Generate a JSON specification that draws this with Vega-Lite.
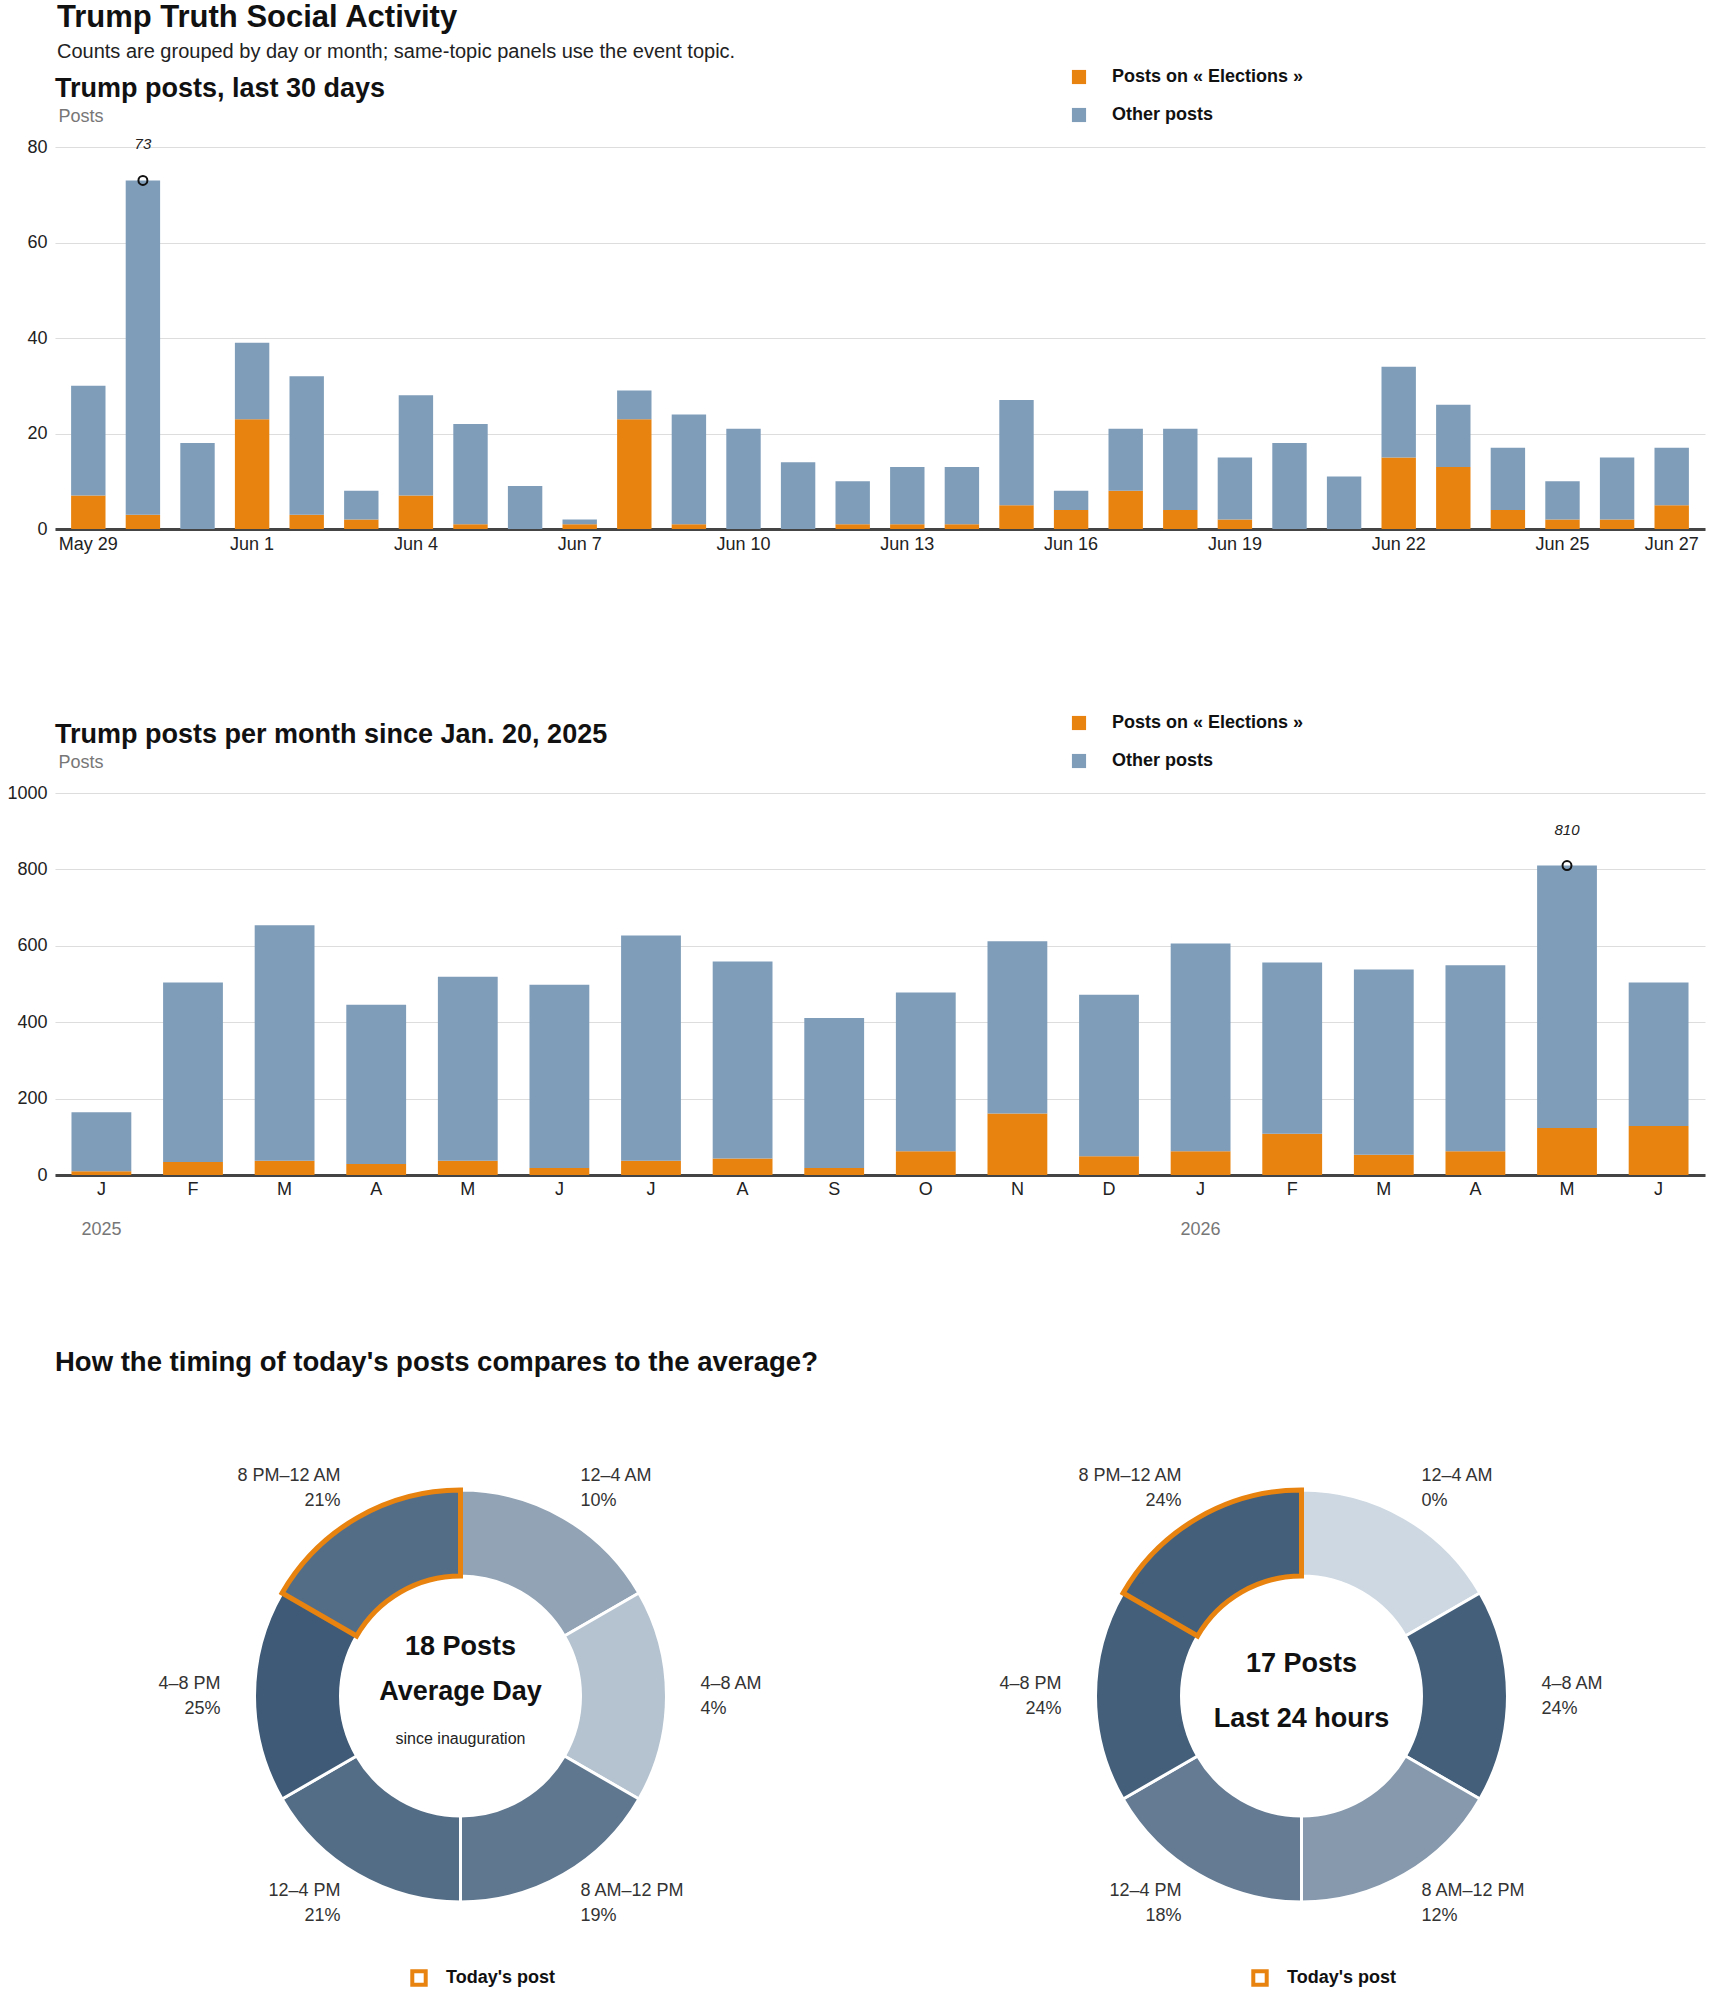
{
  "$schema": "https://vega.github.io/schema/vega-lite/v6.json",
  "background": "white",
  "padding": {"left": 6, "top": 2, "right": 2, "bottom": 2},
  "config": {
    "font": "Liberation Sans",
    "view": {"stroke": null},
    "axis": {"labelFont": "Liberation Sans", "labelFontSize": 18, "labelColor": "#222222", "titleFont": "Liberation Sans"},
    "legend": {"labelFont": "Liberation Sans", "labelLimit": 400},
    "title": {"font": "Liberation Sans"},
    "text": {"font": "Liberation Sans"}
  },
  "title": {
    "text": "Trump Truth Social Activity",
    "subtitle": "Counts are grouped by day or month; same-topic panels use the event topic.",
    "anchor": "start", "dx": 50, "fontSize": 31, "fontWeight": "bold", "color": "#111111",
    "subtitleFontSize": 20, "subtitleColor": "#222222", "subtitlePadding": 8, "offset": 5
  },
  "datasets": {
    "daily": [
      {"day": "May 29", "elections": 7, "other": 23},
      {"day": "May 30", "elections": 3, "other": 70},
      {"day": "May 31", "elections": 0, "other": 18},
      {"day": "Jun 1", "elections": 23, "other": 16},
      {"day": "Jun 2", "elections": 3, "other": 29},
      {"day": "Jun 3", "elections": 2, "other": 6},
      {"day": "Jun 4", "elections": 7, "other": 21},
      {"day": "Jun 5", "elections": 1, "other": 21},
      {"day": "Jun 6", "elections": 0, "other": 9},
      {"day": "Jun 7", "elections": 1, "other": 1},
      {"day": "Jun 8", "elections": 23, "other": 6},
      {"day": "Jun 9", "elections": 1, "other": 23},
      {"day": "Jun 10", "elections": 0, "other": 21},
      {"day": "Jun 11", "elections": 0, "other": 14},
      {"day": "Jun 12", "elections": 1, "other": 9},
      {"day": "Jun 13", "elections": 1, "other": 12},
      {"day": "Jun 14", "elections": 1, "other": 12},
      {"day": "Jun 15", "elections": 5, "other": 22},
      {"day": "Jun 16", "elections": 4, "other": 4},
      {"day": "Jun 17", "elections": 8, "other": 13},
      {"day": "Jun 18", "elections": 4, "other": 17},
      {"day": "Jun 19", "elections": 2, "other": 13},
      {"day": "Jun 20", "elections": 0, "other": 18},
      {"day": "Jun 21", "elections": 0, "other": 11},
      {"day": "Jun 22", "elections": 15, "other": 19},
      {"day": "Jun 23", "elections": 13, "other": 13},
      {"day": "Jun 24", "elections": 4, "other": 13},
      {"day": "Jun 25", "elections": 2, "other": 8},
      {"day": "Jun 26", "elections": 2, "other": 13},
      {"day": "Jun 27", "elections": 5, "other": 12}
    ],
    "monthly": [
      {"month": "Jan 2025", "elections": 10, "other": 154},
      {"month": "Feb 2025", "elections": 34, "other": 470},
      {"month": "Mar 2025", "elections": 37, "other": 617},
      {"month": "Apr 2025", "elections": 29, "other": 417},
      {"month": "May 2025", "elections": 37, "other": 482},
      {"month": "Jun 2025", "elections": 18, "other": 480},
      {"month": "Jul 2025", "elections": 37, "other": 590},
      {"month": "Aug 2025", "elections": 43, "other": 516},
      {"month": "Sep 2025", "elections": 18, "other": 393},
      {"month": "Oct 2025", "elections": 62, "other": 416},
      {"month": "Nov 2025", "elections": 161, "other": 451},
      {"month": "Dec 2025", "elections": 49, "other": 423},
      {"month": "Jan 2026", "elections": 62, "other": 544},
      {"month": "Feb 2026", "elections": 108, "other": 448},
      {"month": "Mar 2026", "elections": 53, "other": 485},
      {"month": "Apr 2026", "elections": 62, "other": 487},
      {"month": "May 2026", "elections": 123, "other": 687},
      {"month": "Jun 2026", "elections": 128, "other": 376}
    ],
    "avgday": [
      {"slot": "12–4 AM", "idx": 0, "hours": 4, "share": 0.10, "today": false},
      {"slot": "4–8 AM", "idx": 1, "hours": 4, "share": 0.04, "today": false},
      {"slot": "8 AM–12 PM", "idx": 2, "hours": 4, "share": 0.19, "today": false},
      {"slot": "12–4 PM", "idx": 3, "hours": 4, "share": 0.21, "today": false},
      {"slot": "4–8 PM", "idx": 4, "hours": 4, "share": 0.25, "today": false},
      {"slot": "8 PM–12 AM", "idx": 5, "hours": 4, "share": 0.21, "today": true}
    ],
    "last24": [
      {"slot": "12–4 AM", "idx": 0, "hours": 4, "share": 0.00, "today": false},
      {"slot": "4–8 AM", "idx": 1, "hours": 4, "share": 0.24, "today": false},
      {"slot": "8 AM–12 PM", "idx": 2, "hours": 4, "share": 0.12, "today": false},
      {"slot": "12–4 PM", "idx": 3, "hours": 4, "share": 0.18, "today": false},
      {"slot": "4–8 PM", "idx": 4, "hours": 4, "share": 0.24, "today": false},
      {"slot": "8 PM–12 AM", "idx": 5, "hours": 4, "share": 0.24, "today": true}
    ]
  },
  "vconcat": [
    {
      "spacing": 161,
      "resolve": {"scale": {"color": "independent"}, "legend": {"color": "independent"}},
      "vconcat": [
        {
          "title": {"text": "Trump posts, last 30 days", "anchor": "start", "frame": "group", "fontSize": 27, "fontWeight": "bold", "color": "#111111", "offset": -35},
          "width": 1650, "height": 382,
          "data": {"name": "daily"},
          "transform": [{"fold": ["elections", "other"], "as": ["series", "posts"]}],
          "layer": [
            {
              "mark": {"type": "bar"},
              "encoding": {
                "x": {"field": "day", "type": "ordinal", "sort": null, "title": null,
                  "scale": {"paddingInner": 0.37, "paddingOuter": 0.295},
                  "axis": {"values": ["May 29", "Jun 1", "Jun 4", "Jun 7", "Jun 10", "Jun 13", "Jun 16", "Jun 19", "Jun 22", "Jun 25", "Jun 27"],
                    "labelAngle": 0, "ticks": false, "domainColor": "#444444", "domainWidth": 3, "labelPadding": 6, "labelFontSize": 18}},
                "y": {"field": "posts", "type": "quantitative", "stack": "zero", "title": "Posts",
                  "scale": {"domain": [0, 80]},
                  "axis": {"values": [0, 20, 40, 60, 80], "format": "d", "grid": true, "gridColor": "#dddddd", "domain": false, "ticks": false, "labelPadding": 8,
                    "titleAngle": 0, "titleAlign": "left", "titleBaseline": "middle", "titleX": 3, "titleY": -31, "titleColor": "#777777", "titleFontWeight": "normal", "titleFontSize": 18}},
                "color": {"field": "series", "type": "nominal",
                  "scale": {"domain": ["elections", "other"], "range": ["#e8830f", "#7f9db9"]},
                  "legend": {"orient": "none", "legendX": 1015, "legendY": -79, "title": null, "symbolType": "square", "symbolSize": 200,
                    "labelFontSize": 18, "labelFontWeight": "bold", "labelColor": "#111111", "labelOffset": 24, "rowPadding": 20, "labelLimit": 400,
                    "labelExpr": "datum.label == 'elections' ? 'Posts on « Elections »' : 'Other posts'"}},
                "order": {"field": "series", "sort": "ascending"}
              }
            },
            {
              "transform": [{"filter": "datum.day == 'May 30'"}],
              "mark": {"type": "point", "shape": "circle", "filled": false, "stroke": "#111111", "strokeWidth": 2, "size": 80, "opacity": 1},
              "encoding": {
                "x": {"field": "day", "type": "ordinal", "sort": null, "title": null},
                "y": {"aggregate": "sum", "field": "posts", "type": "quantitative", "title": "Posts"}
              }
            },
            {
              "transform": [{"filter": "datum.day == 'May 30'"}],
              "mark": {"type": "text", "dy": -36, "fontSize": 15, "fontStyle": "italic", "color": "#222222"},
              "encoding": {
                "x": {"field": "day", "type": "ordinal", "sort": null, "title": null},
                "y": {"aggregate": "sum", "field": "posts", "type": "quantitative", "title": "Posts"},
                "text": {"aggregate": "sum", "field": "posts", "type": "quantitative"}
              }
            }
          ]
        },
        {
          "title": {"text": "Trump posts per month since Jan. 20, 2025", "anchor": "start", "frame": "group", "fontSize": 27, "fontWeight": "bold", "color": "#111111", "offset": -35},
          "width": 1650, "height": 382,
          "data": {"name": "monthly"},
          "transform": [{"fold": ["elections", "other"], "as": ["series", "posts"]}],
          "layer": [
            {
              "mark": {"type": "bar"},
              "encoding": {
                "x": {"field": "month", "type": "ordinal", "sort": null, "title": null,
                  "scale": {"paddingInner": 0.347, "paddingOuter": 0.18},
                  "axis": {"orient": "bottom", "labelExpr": "slice(datum.value, 0, 1)", "labelAngle": 0, "ticks": false, "domainColor": "#444444", "domainWidth": 3, "labelPadding": 5, "labelFontSize": 18}},
                "y": {"field": "posts", "type": "quantitative", "stack": "zero", "title": "Posts",
                  "scale": {"domain": [0, 1000]},
                  "axis": {"values": [0, 200, 400, 600, 800, 1000], "format": "d", "grid": true, "gridColor": "#dddddd", "domain": false, "ticks": false, "labelPadding": 8,
                    "titleAngle": 0, "titleAlign": "left", "titleBaseline": "middle", "titleX": 3, "titleY": -31, "titleColor": "#777777", "titleFontWeight": "normal", "titleFontSize": 18}},
                "color": {"field": "series", "type": "nominal",
                  "scale": {"domain": ["elections", "other"], "range": ["#e8830f", "#7f9db9"]},
                  "legend": {"orient": "none", "legendX": 1015, "legendY": -79, "title": null, "symbolType": "square", "symbolSize": 200,
                    "labelFontSize": 18, "labelFontWeight": "bold", "labelColor": "#111111", "labelOffset": 24, "rowPadding": 20, "labelLimit": 400,
                    "labelExpr": "datum.label == 'elections' ? 'Posts on « Elections »' : 'Other posts'"}},
                "order": {"field": "series", "sort": "ascending"}
              }
            },
            {
              "transform": [{"filter": "datum.month == 'May 2026'"}],
              "mark": {"type": "point", "shape": "circle", "filled": false, "stroke": "#111111", "strokeWidth": 2, "size": 80, "opacity": 1},
              "encoding": {
                "x": {"field": "month", "type": "ordinal", "sort": null, "title": null, "axis": null},
                "y": {"aggregate": "sum", "field": "posts", "type": "quantitative", "title": "Posts"}
              }
            },
            {
              "transform": [{"filter": "datum.month == 'May 2026'"}],
              "mark": {"type": "text", "dy": -36, "fontSize": 15, "fontStyle": "italic", "color": "#222222"},
              "encoding": {
                "x": {"field": "month", "type": "ordinal", "sort": null, "title": null, "axis": null},
                "y": {"aggregate": "sum", "field": "posts", "type": "quantitative", "title": "Posts"},
                "text": {"aggregate": "sum", "field": "posts", "type": "quantitative"}
              }
            },
            {
              "mark": {"type": "text", "opacity": 0},
              "encoding": {
                "x": {"field": "month", "type": "ordinal", "sort": null, "title": null,
                  "axis": {"orient": "bottom", "offset": 40, "domain": false, "ticks": false, "grid": false, "labelAngle": 0, "labelPadding": 5,
                    "labelExpr": "slice(datum.value, 0, 3) == 'Jan' ? slice(datum.value, 4) : ''", "labelColor": "#777777", "labelFontSize": 18}},
                "text": {"value": ""}
              }
            }
          ],
          "resolve": {"axis": {"x": "independent"}}
        }
      ]
    },
    {
      "title": {"text": "How the timing of today's posts compares to the average?", "anchor": "start", "frame": "group", "fontSize": 27.5, "fontWeight": "bold", "color": "#111111", "offset": 70},
      "spacing": 30,
      "resolve": {"scale": {"stroke": "independent", "theta": "independent", "fill": "independent"}, "legend": {"stroke": "independent"}},
      "hconcat": [
        {
          "width": 811, "height": 500,
          "data": {"name": "avgday"},
          "layer": [
            {
              "mark": {"type": "arc", "outerRadius": 206, "innerRadius": 120, "stroke": "white", "strokeWidth": 3},
              "encoding": {
                "theta": {"field": "hours", "type": "quantitative", "stack": true, "scale": {"domain": [0, 24]}},
                "order": {"field": "idx", "type": "quantitative"},
                "fill": {"field": "share", "type": "quantitative", "scale": {"domain": [0, 0.25], "range": ["#cdd8e2", "#3e5a76"]}, "legend": null}
              }
            },
            {
              "transform": [{"stack": "hours", "groupby": [], "sort": [{"field": "idx", "order": "ascending"}], "as": ["h0", "h1"]}, {"filter": "datum.today"}],
              "mark": {"type": "arc", "outerRadius": 206, "innerRadius": 120, "filled": false, "strokeWidth": 5, "strokeJoin": "miter"},
              "encoding": {
                "theta": {"field": "h0", "type": "quantitative", "stack": null, "scale": {"domain": [0, 24]}},
                "theta2": {"field": "h1"},
                "stroke": {"datum": "Today's post", "type": "nominal", "scale": {"range": ["#e8830f"]},
                  "legend": {"orient": "none", "legendX": 355, "legendY": 523, "title": null, "symbolType": "square", "symbolSize": 180, "symbolStrokeWidth": 4, "symbolFillColor": "white",
                    "labelFontSize": 18, "labelFontWeight": "bold", "labelColor": "#111111", "labelOffset": 18}}
              }
            },
            {
              "mark": {"type": "text", "radius": 240, "align": "left", "baseline": "middle", "dy": -12.5, "fontSize": 18, "color": "#333333"},
              "encoding": {
                "theta": {"field": "hours", "type": "quantitative", "stack": true, "scale": {"domain": [0, 24]}},
                "order": {"field": "idx", "type": "quantitative"},
                "text": {"field": "slot", "type": "nominal"},
                "opacity": {"condition": {"test": "datum.idx <= 2", "value": 1}, "value": 0}
              }
            },
            {
              "mark": {"type": "text", "radius": 240, "align": "left", "baseline": "middle", "dy": 12.5, "fontSize": 18, "color": "#333333"},
              "encoding": {
                "theta": {"field": "hours", "type": "quantitative", "stack": true, "scale": {"domain": [0, 24]}},
                "order": {"field": "idx", "type": "quantitative"},
                "text": {"field": "share", "type": "quantitative", "format": ".0%"},
                "opacity": {"condition": {"test": "datum.idx <= 2", "value": 1}, "value": 0}
              }
            },
            {
              "mark": {"type": "text", "radius": 240, "align": "right", "baseline": "middle", "dy": -12.5, "fontSize": 18, "color": "#333333"},
              "encoding": {
                "theta": {"field": "hours", "type": "quantitative", "stack": true, "scale": {"domain": [0, 24]}},
                "order": {"field": "idx", "type": "quantitative"},
                "text": {"field": "slot", "type": "nominal"},
                "opacity": {"condition": {"test": "datum.idx >= 3", "value": 1}, "value": 0}
              }
            },
            {
              "mark": {"type": "text", "radius": 240, "align": "right", "baseline": "middle", "dy": 12.5, "fontSize": 18, "color": "#333333"},
              "encoding": {
                "theta": {"field": "hours", "type": "quantitative", "stack": true, "scale": {"domain": [0, 24]}},
                "order": {"field": "idx", "type": "quantitative"},
                "text": {"field": "share", "type": "quantitative", "format": ".0%"},
                "opacity": {"condition": {"test": "datum.idx >= 3", "value": 1}, "value": 0}
              }
            },
            {
              "data": {"values": [{"label": "18 Posts"}]},
              "mark": {"type": "text", "dy": -49, "fontSize": 27, "fontWeight": "bold", "color": "#111111", "baseline": "middle", "align": "center"},
              "encoding": {"text": {"field": "label", "type": "nominal"}}
            },
            {
              "data": {"values": [{"label": "Average Day"}]},
              "mark": {"type": "text", "dy": -4, "fontSize": 27, "fontWeight": "bold", "color": "#111111", "baseline": "middle", "align": "center"},
              "encoding": {"text": {"field": "label", "type": "nominal"}}
            },
            {
              "data": {"values": [{"label": "since inauguration"}]},
              "mark": {"type": "text", "dy": 43, "fontSize": 16, "color": "#222222", "baseline": "middle", "align": "center"},
              "encoding": {"text": {"field": "label", "type": "nominal"}}
            }
          ]
        },
        {
          "width": 811, "height": 500,
          "data": {"name": "last24"},
          "layer": [
            {
              "mark": {"type": "arc", "outerRadius": 206, "innerRadius": 120, "stroke": "white", "strokeWidth": 3},
              "encoding": {
                "theta": {"field": "hours", "type": "quantitative", "stack": true, "scale": {"domain": [0, 24]}},
                "order": {"field": "idx", "type": "quantitative"},
                "fill": {"field": "share", "type": "quantitative", "scale": {"domain": [0, 0.25], "range": ["#cdd8e2", "#3e5a76"]}, "legend": null}
              }
            },
            {
              "transform": [{"stack": "hours", "groupby": [], "sort": [{"field": "idx", "order": "ascending"}], "as": ["h0", "h1"]}, {"filter": "datum.today"}],
              "mark": {"type": "arc", "outerRadius": 206, "innerRadius": 120, "filled": false, "strokeWidth": 5, "strokeJoin": "miter"},
              "encoding": {
                "theta": {"field": "h0", "type": "quantitative", "stack": null, "scale": {"domain": [0, 24]}},
                "theta2": {"field": "h1"},
                "stroke": {"datum": "Today's post", "type": "nominal", "scale": {"range": ["#e8830f"]},
                  "legend": {"orient": "none", "legendX": 355, "legendY": 523, "title": null, "symbolType": "square", "symbolSize": 180, "symbolStrokeWidth": 4, "symbolFillColor": "white",
                    "labelFontSize": 18, "labelFontWeight": "bold", "labelColor": "#111111", "labelOffset": 18}}
              }
            },
            {
              "mark": {"type": "text", "radius": 240, "align": "left", "baseline": "middle", "dy": -12.5, "fontSize": 18, "color": "#333333"},
              "encoding": {
                "theta": {"field": "hours", "type": "quantitative", "stack": true, "scale": {"domain": [0, 24]}},
                "order": {"field": "idx", "type": "quantitative"},
                "text": {"field": "slot", "type": "nominal"},
                "opacity": {"condition": {"test": "datum.idx <= 2", "value": 1}, "value": 0}
              }
            },
            {
              "mark": {"type": "text", "radius": 240, "align": "left", "baseline": "middle", "dy": 12.5, "fontSize": 18, "color": "#333333"},
              "encoding": {
                "theta": {"field": "hours", "type": "quantitative", "stack": true, "scale": {"domain": [0, 24]}},
                "order": {"field": "idx", "type": "quantitative"},
                "text": {"field": "share", "type": "quantitative", "format": ".0%"},
                "opacity": {"condition": {"test": "datum.idx <= 2", "value": 1}, "value": 0}
              }
            },
            {
              "mark": {"type": "text", "radius": 240, "align": "right", "baseline": "middle", "dy": -12.5, "fontSize": 18, "color": "#333333"},
              "encoding": {
                "theta": {"field": "hours", "type": "quantitative", "stack": true, "scale": {"domain": [0, 24]}},
                "order": {"field": "idx", "type": "quantitative"},
                "text": {"field": "slot", "type": "nominal"},
                "opacity": {"condition": {"test": "datum.idx >= 3", "value": 1}, "value": 0}
              }
            },
            {
              "mark": {"type": "text", "radius": 240, "align": "right", "baseline": "middle", "dy": 12.5, "fontSize": 18, "color": "#333333"},
              "encoding": {
                "theta": {"field": "hours", "type": "quantitative", "stack": true, "scale": {"domain": [0, 24]}},
                "order": {"field": "idx", "type": "quantitative"},
                "text": {"field": "share", "type": "quantitative", "format": ".0%"},
                "opacity": {"condition": {"test": "datum.idx >= 3", "value": 1}, "value": 0}
              }
            },
            {
              "data": {"values": [{"label": "17 Posts"}]},
              "mark": {"type": "text", "dy": -32, "fontSize": 27, "fontWeight": "bold", "color": "#111111", "baseline": "middle", "align": "center"},
              "encoding": {"text": {"field": "label", "type": "nominal"}}
            },
            {
              "data": {"values": [{"label": "Last 24 hours"}]},
              "mark": {"type": "text", "dy": 23, "fontSize": 27, "fontWeight": "bold", "color": "#111111", "baseline": "middle", "align": "center"},
              "encoding": {"text": {"field": "label", "type": "nominal"}}
            }
          ]
        }
      ]
    }
  ],
  "spacing": 110
}
